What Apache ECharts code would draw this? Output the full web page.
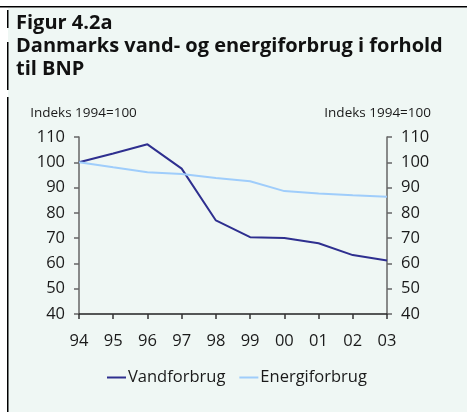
<!DOCTYPE html>
<html><head><meta charset="utf-8">
<script src="https://cdn.jsdelivr.net/npm/echarts@6/dist/echarts.min.js"></script>
<style>html,body{margin:0;padding:0;background:#fff}#c{width:467px;height:412px}</style>
</head><body><div id="c"></div>
<script>
const years = ['94','95','96','97','98','99','00','01','02','03'];
const vandforbrug = [100, 103.5, 107.1, 97.5, 77, 70.4, 70.1, 68, 63.3, 61.2];
const energiforbrug = [100, 98, 96.1, 95.4, 93.8, 92.5, 88.6, 87.7, 87.0, 86.4];
const yTicks = [40, 50, 60, 70, 80, 90, 100, 110];
const seriesNames = ['Vandforbrug', 'Energiforbrug'];

const chart = echarts.init(document.getElementById('c'), null, {renderer: 'canvas'});
const F = '"Open Sans", "Noto Sans", sans-serif';
const axisLbl = {color: '#1a1a1a', fontSize: 16.5, fontFamily: F};
const yAxisBase = {
  type: 'value', min: yTicks[0], max: yTicks[yTicks.length-1], interval: 10,
  axisLine: {show: true, lineStyle: {color: '#666', width: 1.5}},
  axisTick: {show: true, length: 5, lineStyle: {color: '#666', width: 1.5}},
  splitLine: {show: false}
};
chart.setOption({
  backgroundColor: 'transparent',
  animation: false,
  graphic: [
    {type: 'rect', shape: {x: 8, y: 8, width: 459, height: 404}, style: {fill: '#eff7f4'}, z: -10},
    {type: 'rect', shape: {x: 0, y: 6, width: 467, height: 1.5}, style: {fill: '#000'}},
    {type: 'rect', shape: {x: 7, y: 10, width: 1.5, height: 18}, style: {fill: '#000'}},
    {type: 'rect', shape: {x: 7, y: 42, width: 1.5, height: 48}, style: {fill: '#000'}},
    {type: 'rect', shape: {x: 7, y: 97, width: 1.5, height: 315}, style: {fill: '#000'}},
    {type: 'text', left: 16, top: 13, style: {text: 'Figur 4.2a', font: 'bold 20px ' + F, fill: '#111'}},
    {type: 'text', left: 16, top: 36, style: {text: 'Danmarks vand- og energiforbrug i forhold', font: 'bold 20px ' + F, fill: '#111'}},
    {type: 'text', left: 16, top: 59, style: {text: 'til BNP', font: 'bold 20px ' + F, fill: '#111'}}
  ],
  grid: {left: 79, right: 80, top: 137, bottom: 98, containLabel: false},
  legend: {
    bottom: 21, left: 102, itemWidth: 19, itemHeight: 2, itemGap: 14,
    icon: 'rect',
    textStyle: {color: '#1a1a1a', fontSize: 16.5, fontFamily: F, padding: [0, 0, 0, -3]},
    data: seriesNames
  },
  xAxis: {
    type: 'category', data: years, boundaryGap: false,
    axisLine: {lineStyle: {color: '#222', width: 1.5}},
    axisTick: {show: true, length: 5, lineStyle: {color: '#333', width: 1.5}},
    axisLabel: Object.assign({}, axisLbl, {margin: 19})
  },
  yAxis: [
    Object.assign({}, yAxisBase, {position: 'left', name: 'Indeks 1994=100', nameLocation: 'end', nameGap: 17,
      axisLabel: Object.assign({}, axisLbl, {margin: 14}),
      nameTextStyle: {color: '#1a1a1a', fontSize: 13.5, fontFamily: F, align: 'center', padding: [0, 0, 0, 9]}}),
    Object.assign({}, yAxisBase, {position: 'right', name: 'Indeks 1994=100', nameLocation: 'end', nameGap: 17,
      axisLabel: Object.assign({}, axisLbl, {margin: 14}),
      nameTextStyle: {color: '#1a1a1a', fontSize: 13.5, fontFamily: F, align: 'right', padding: [0, -44, 0, 0]}})
  ],
  series: [
    {name: seriesNames[0], type: 'line', data: vandforbrug, yAxisIndex: 0, symbol: 'none',
      lineStyle: {color: '#2e2f8f', width: 2}, itemStyle: {color: '#2e2f8f'}},
    {name: seriesNames[1], type: 'line', data: energiforbrug, yAxisIndex: 0, symbol: 'none',
      lineStyle: {color: '#9fcdfb', width: 2}, itemStyle: {color: '#9fcdfb'}}
  ]
});
</script></body></html>
